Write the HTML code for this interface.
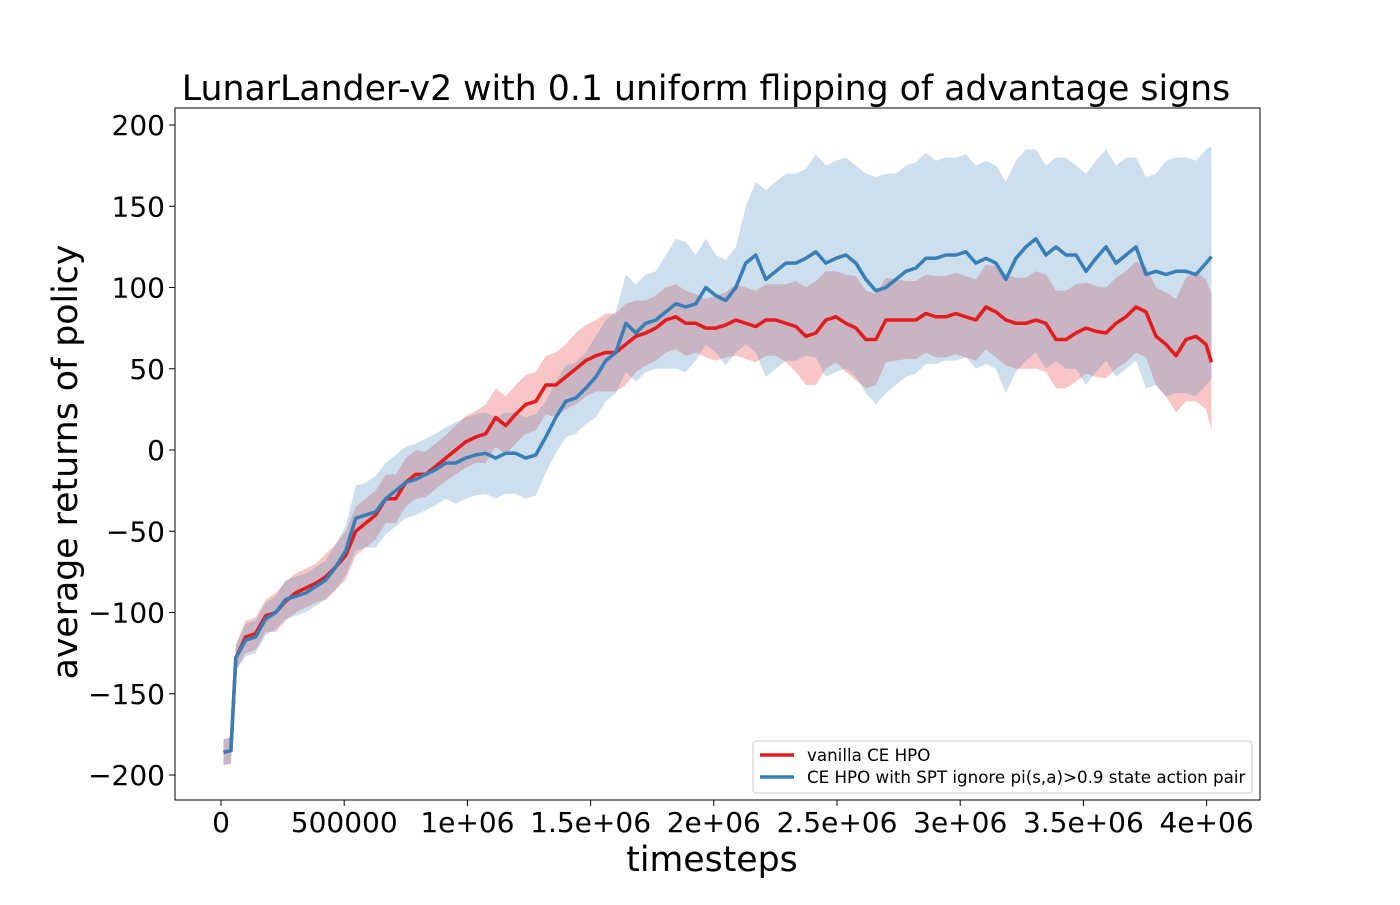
<!DOCTYPE html>
<html><head><meta charset="utf-8"><style>
body{margin:0;background:#fff;}
svg text{font-family:"DejaVu Sans","Liberation Sans",sans-serif;}
</style></head><body>
<svg id="chart" width="1400" height="900">
<rect width="1400" height="900" fill="#fff"/>
<text x="706" y="100" font-size="34.7" text-anchor="middle">LunarLander-v2 with 0.1 uniform flipping of advantage signs</text>
<g id="plot"></g>
<text x="712" y="871" font-size="34.7" text-anchor="middle">timesteps</text>
<text transform="translate(77,462) rotate(-90)" font-size="34.7" text-anchor="middle">average returns of policy</text>
</svg>
<script>
const redMean=[-186,-185,-128,
-115,-113,-102,-100,-93,-88,-85,-82,-78,-72,
-65,-50,-45,-40,-30,-30,-20,-15,-15,-10,
-5,0,5,8,10,20,15,22,28,30,
40,40,45,50,55,58,60,60,65,70,
72,75,80,82,78,78,75,75,77,80,
78,76,80,80,78,76,70,72,80,82,
78,75,68,68,80,80,80,80,84,82,
82,84,82,80,88,85,80,78,78,80,
78,68,68,72,75,73,72,78,82,88,
85,70,65,58,68,70,65,
54];
const blueMean=[-186,-185,-128,
-117,-115,-104,-100,-92,-90,-88,-84,-80,-72,
-62,-42,-40,-38,-30,-25,-20,-18,-15,-12,
-8,-8,-5,-3,-2,-5,-2,-2,-5,-3,
8,20,30,32,38,45,55,60,78,72,
78,80,85,90,88,90,100,95,92,100,
115,120,105,110,115,115,118,122,115,118,
120,115,105,98,100,105,110,112,118,118,
120,120,122,115,118,115,105,118,125,130,
120,125,120,120,110,118,125,115,120,125,
108,110,108,110,110,108,115,
119];
const redSpread=[8,8,8,
10,10,10,12,12,12,12,12,14,14,15,
15,15,15,15,15,15,15,14,14,14,15,16,16,18,18,18,18,18,18,18,
20,20,22,22,22,24,24,25,22,20,20,20,20,20,18,18,20,20,22,22,
22,22,22,24,28,30,32,30,28,30,32,30,28,26,25,24,24,24,25,25,
25,25,25,26,28,28,28,28,30,30,30,30,30,28,28,28,28,28,28,28,30,
32,35,38,40,40,
42];
const blueUpper=[8,8,8,
10,10,10,10,12,12,12,12,12,14,
15,20,20,22,22,22,22,22,22,22,
22,25,25,25,25,25,25,25,25,25,
22,22,22,22,22,25,25,25,30,30,
30,30,35,40,40,30,30,25,25,25,
35,45,55,55,55,55,55,60,60,60,
60,60,65,70,70,65,65,65,65,60,
60,60,60,60,60,60,60,60,60,55,
55,55,60,55,60,60,60,60,60,55,
60,60,70,70,70,70,70,
68];
const blueLower=[8,8,8,
10,10,10,10,12,12,12,12,12,14,
15,20,20,22,22,22,22,22,22,22,
22,25,25,25,25,25,25,25,25,25,
22,22,22,22,22,25,25,25,30,30,
30,30,35,40,40,35,35,35,40,40,
50,60,60,60,60,60,60,65,70,70,
70,70,70,70,65,65,65,65,65,65,
65,65,65,65,65,65,70,70,70,70,
70,70,70,70,70,70,70,70,70,70,
70,70,75,75,75,75,75,
75];
const steps=[10000,40000,60000];
for(let k=0;k<97;k++) steps.push(100000+40600*k);
steps.push(4020000);
const xTicks=[0,500000,1000000,1500000,2000000,2500000,3000000,3500000,4000000];
const xTickLabels=["0","500000","1e+06","1.5e+06","2e+06","2.5e+06","3e+06","3.5e+06","4e+06"];
const yTicks=[-200,-150,-100,-50,0,50,100,150,200];
const yTickLabels=["\u2212200","\u2212150","\u2212100","\u221250","0","50","100","150","200"];

const NS="http://www.w3.org/2000/svg";
const X0=175,X1=1260,Y0=108,Y1=800;
const sx=t=>221+t*(123.2/500000);
const sy=v=>450-v*(81.25/50);
const g=document.getElementById('plot');
function mk(tag,attrs){const e=document.createElementNS(NS,tag);for(const k in attrs)e.setAttribute(k,attrs[k]);g.appendChild(e);return e;}
function band(mean,up,dn,color,name){
  let d='';
  mean.forEach((m,i)=>{d+=(i?'L':'M')+sx(steps[i]).toFixed(1)+','+sy(m+up[i]).toFixed(1);});
  for(let i=mean.length-1;i>=0;i--) d+='L'+sx(steps[i]).toFixed(1)+','+sy(mean[i]-dn[i]).toFixed(1);
  const p=mk('path',{d:d+'Z',fill:color,'fill-opacity':0.25,stroke:'none'});
  
  
}
function line(mean,color,name){
  const d=mean.map((m,i)=>(i?'L':'M')+sx(steps[i]).toFixed(1)+','+sy(m).toFixed(1)).join('');
  const p=mk('path',{d:d,fill:'none',stroke:color,'stroke-width':3.5,'stroke-linejoin':'round'});
  
  
}
band(redMean,redSpread,redSpread,'#e41a1c','red-band');
band(blueMean,blueUpper,blueLower,'#377eb8','blue-band');
line(redMean,'#e41a1c','vanilla-ce-hpo-line');
line(blueMean,'#377eb8','spt-ce-hpo-line');
const fr=mk('rect',{x:X0,y:Y0,width:X1-X0,height:Y1-Y0,fill:'none',stroke:'#000','stroke-width':1});


xTicks.forEach((t,i)=>{
  const x=sx(t);
  const tk=mk('line',{x1:x,x2:x,y1:Y1,y2:Y1+6,stroke:'#000'});
  
  
  const tx=mk('text',{x:x,y:Y1+32,'font-size':28,'text-anchor':'middle'});
  tx.textContent=xTickLabels[i];
  
  
});
yTicks.forEach((v,i)=>{
  const y=sy(v);
  const tk=mk('line',{x1:X0-6,x2:X0,y1:y,y2:y,stroke:'#000'});
  
  
  const tx=mk('text',{x:X0-10,y:y+10,'font-size':28,'text-anchor':'end'});
  tx.textContent=yTickLabels[i];
  
  
});
const lg=mk('rect',{x:753,y:741,width:499,height:52,rx:3,fill:'#fff','fill-opacity':0.8,stroke:'#ccc'});


[['#e41a1c','vanilla CE HPO',755],['#377eb8','CE HPO with SPT ignore pi(s,a)>0.9 state action pair',777]].forEach((e,i)=>{
  const l=mk('line',{x1:760,x2:794,y1:e[2],y2:e[2],stroke:e[0],'stroke-width':3.5});
  
  
  const t=mk('text',{x:807,y:e[2]+6,'font-size':16.7});
  t.textContent=e[1];
  
  
});
</script>
</body></html>
